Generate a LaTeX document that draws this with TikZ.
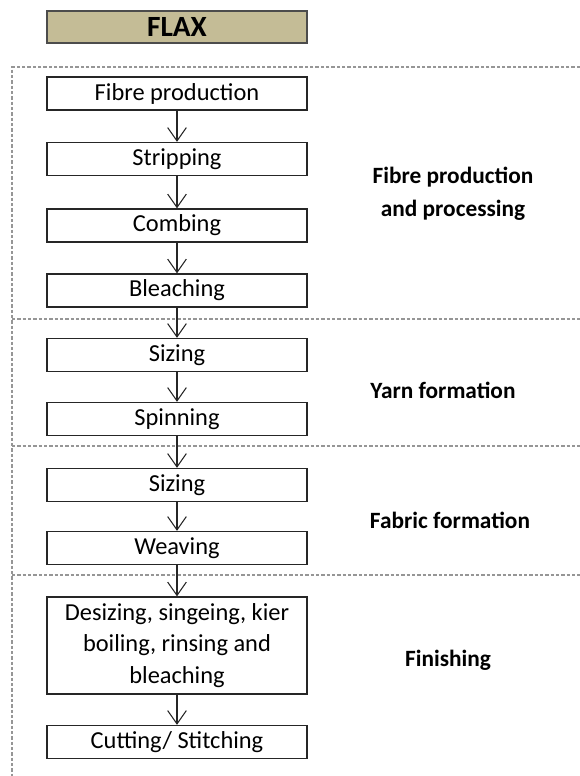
\documentclass[tikz,border=0pt]{standalone}
\usepackage{fontspec}
\setmainfont{Carlito}
\usetikzlibrary{arrows.meta}
\definecolor{flaxfill}{RGB}{196,188,150}
\definecolor{sepgray}{RGB}{150,150,150}
\tikzset{
  stage/.style={draw=black!85, line width=1pt, fill=white, minimum width=195pt, minimum height=24.75pt, inner sep=0pt, font=\fontsize{18.3}{23.5}\selectfont, align=center},
  phase/.style={font=\fontsize{17.5}{24.5}\selectfont\bfseries, align=center},
  flow/.style={-{Straight Barb[length=10pt,width=14pt]}, line width=0.8pt, black!85},
  sepline/.style={sepgray, line width=0.8pt, dash pattern=on 2.5pt off 1.5pt}
}

\begin{document}
\begin{tikzpicture}[x=0.75pt, y=-0.75pt]
  \useasboundingbox (0,0) rectangle (580,776);
  % dashed frame and separators
  \draw[sepline] (580,67) -- (12,67) -- (12,776);
  \draw[sepline] (12,319) -- (580,319);
  \draw[sepline] (12,446) -- (580,446);
  \draw[sepline] (12,575) -- (580,575);
  %
  \node[draw=black!70, line width=1pt, fill=flaxfill, minimum width=195pt, minimum height=24pt, inner sep=0pt, font=\fontsize{22}{26}\selectfont\bfseries] (flax) at (177,27) {FLAX};
  %
  \node[stage] (fp) at (177,93.5) {Fibre production};
  \node[stage] (st) at (177,159) {Stripping};
  \node[stage] (co) at (177,225.5) {Combing};
  \node[stage] (bl) at (177,290.5) {Bleaching};
  \node[stage] (sza) at (177,355) {Sizing};
  \node[stage] (sp) at (177,419) {Spinning};
  \node[stage] (szb) at (177,485) {Sizing};
  \node[stage] (we) at (177,548) {Weaving};
  \node[stage, minimum height=72.75pt] (ds) at (177,645.5) {Desizing, singeing, kier\\boiling, rinsing and\\bleaching};
  \node[stage] (cs) at (177,742) {Cutting/ Stitching};
  %
  \draw[flow] (fp) -- (st);
  \draw[flow] (st) -- (co);
  \draw[flow] (co) -- (bl);
  \draw[flow] (bl) -- (sza);
  \draw[flow] (sza) -- (sp);
  \draw[flow] (sp) -- (szb);
  \draw[flow] (szb) -- (we);
  \draw[flow] (we) -- (ds);
  \draw[flow] (ds) -- (cs);
  %
  \node[phase] (lfib) at (453,193.5) {Fibre production\\and processing};
  \node[phase] (lyarn) at (443,390) {Yarn formation};
  \node[phase] (lfab) at (450,520) {Fabric formation};
  \node[phase] (lfin) at (448,660) {Finishing};
\end{tikzpicture}
\end{document}
